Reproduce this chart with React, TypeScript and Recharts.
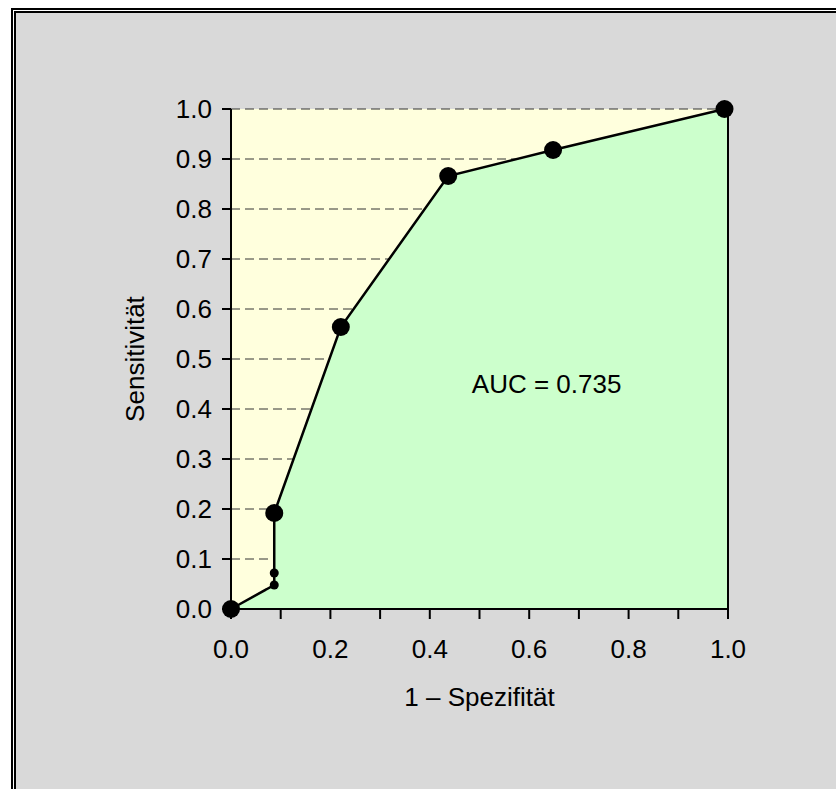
import React from 'react'
import {
  ComposedChart,
  Area,
  Scatter,
  XAxis,
  YAxis,
  CartesianGrid,
  ReferenceLine,
  ReferenceDot,
} from 'recharts'

// ROC cut-off points: 1 - specificity / sensitivity
const FPR = [0, 0.087, 0.087, 0.087, 0.221, 0.437, 0.648, 0.993]
const TPR = [0, 0.048, 0.072, 0.192, 0.564, 0.866, 0.918, 1.0]
// cut-offs drawn with the small marker
const MINOR_POINTS = [1, 2]
// the curve always closes at (1, 1)
const CURVE_END = { fpr: 1, tpr: 1 }

const AUC = 0.735
const X_TICKS = [0, 0.1, 0.2, 0.3, 0.4, 0.5, 0.6, 0.7, 0.8, 0.9, 1.0]
const Y_TICKS = [0, 0.1, 0.2, 0.3, 0.4, 0.5, 0.6, 0.7, 0.8, 0.9, 1.0]
const X_TITLE = '1 – Spezifität'
const Y_TITLE = 'Sensitivität'

const points = FPR.map((fpr, i) => ({ fpr, tpr: TPR[i] }))
const curve = [...points, CURVE_END]
const majorPoints = points.filter((_, i) => !MINOR_POINTS.includes(i))
const minorPoints = points.filter((_, i) => MINOR_POINTS.includes(i))

const FONT = 26
const GRAY = '#d9d9d9'

const YTitle = ({ viewBox }: any) => {
  const cx = viewBox.x - 26
  const cy = viewBox.y + viewBox.height / 2
  return (
    <text
      x={cx}
      y={cy}
      transform={`rotate(-90, ${cx}, ${cy})`}
      textAnchor='middle'
      dominantBaseline='central'
      fontSize={FONT}
      fill='#000'
    >
      {Y_TITLE}
    </text>
  )
}

const XTitle = ({ viewBox }: any) => (
  <text
    x={viewBox.x + viewBox.width / 2}
    y={viewBox.y + 88}
    textAnchor='middle'
    dominantBaseline='central'
    fontSize={FONT}
    fill='#000'
  >
    {X_TITLE}
  </text>
)

const bigDot = (p: any) => <circle cx={p.cx} cy={p.cy} r={9} fill='#000' />
const smallDot = (p: any) => <circle cx={p.cx} cy={p.cy} r={4.5} fill='#000' />

export default function App() {
  return (
    <>
      {/* double frame */}
      <div
        style={{
          position: 'fixed',
          left: 11,
          top: 8,
          right: 0,
          bottom: 0,
          borderLeft: '2px solid #000',
          borderTop: '2px solid #000',
          background: '#fff',
          paddingLeft: 1,
          paddingTop: 1,
          boxSizing: 'border-box',
        }}
      >
        <div
          style={{
            width: '100%',
            height: '100%',
            borderLeft: '2px solid #000',
            borderTop: '2px solid #000',
            background: GRAY,
            boxSizing: 'border-box',
          }}
        />
      </div>
      <div
        style={{
          position: 'fixed',
          left: 16,
          top: 13,
          fontFamily: '"Liberation Sans", Arial, sans-serif',
        }}
      >
        <ComposedChart
          width={820}
          height={776}
          data={curve}
          margin={{ top: 96, right: 108, bottom: 120, left: 145 }}
        >
          <CartesianGrid
            horizontal
            vertical={false}
            fill='#ffffdd'
            fillOpacity={1}
            stroke='#333'
            strokeDasharray='9 5'
          />
          <Area
            type='linear'
            dataKey='tpr'
            stroke='#000'
            strokeWidth={2.5}
            fill='#ccffcc'
            fillOpacity={1}
            dot={false}
            activeDot={false}
            isAnimationActive={false}
          />
          <XAxis
            dataKey='fpr'
            type='number'
            domain={[0, 1]}
            ticks={X_TICKS}
            interval={0}
            tickFormatter={(v: number) => (Math.round(v * 10) % 2 === 0 ? v.toFixed(1) : '')}
            tick={{ fontSize: FONT, fill: '#000' }}
            tickSize={10}
            tickMargin={21}
            axisLine={{ stroke: '#000', strokeWidth: 2 }}
            tickLine={{ stroke: '#000', strokeWidth: 2 }}
            height={60}
            label={<XTitle />}
          />
          <YAxis
            type='number'
            domain={[0, 1]}
            ticks={Y_TICKS}
            interval={0}
            tickFormatter={(v: number) => v.toFixed(1)}
            tick={{ fontSize: FONT, fill: '#000' }}
            tickSize={9}
            tickMargin={10}
            axisLine={{ stroke: '#000', strokeWidth: 2 }}
            tickLine={{ stroke: '#000', strokeWidth: 2 }}
            width={70}
            label={<YTitle />}
          />
          <ReferenceLine x={1} stroke='#000' strokeWidth={2} />
          <Scatter data={majorPoints} dataKey='tpr' shape={bigDot} isAnimationActive={false} />
          <Scatter data={minorPoints} dataKey='tpr' shape={smallDot} isAnimationActive={false} />
          <ReferenceDot
            x={0.635}
            y={0.45}
            r={0}
            stroke='none'
            fill='none'
            label={{ value: `AUC = ${AUC}`, position: 'center', fontSize: FONT, fill: '#000' }}
          />
        </ComposedChart>
      </div>
    </>
  )
}
